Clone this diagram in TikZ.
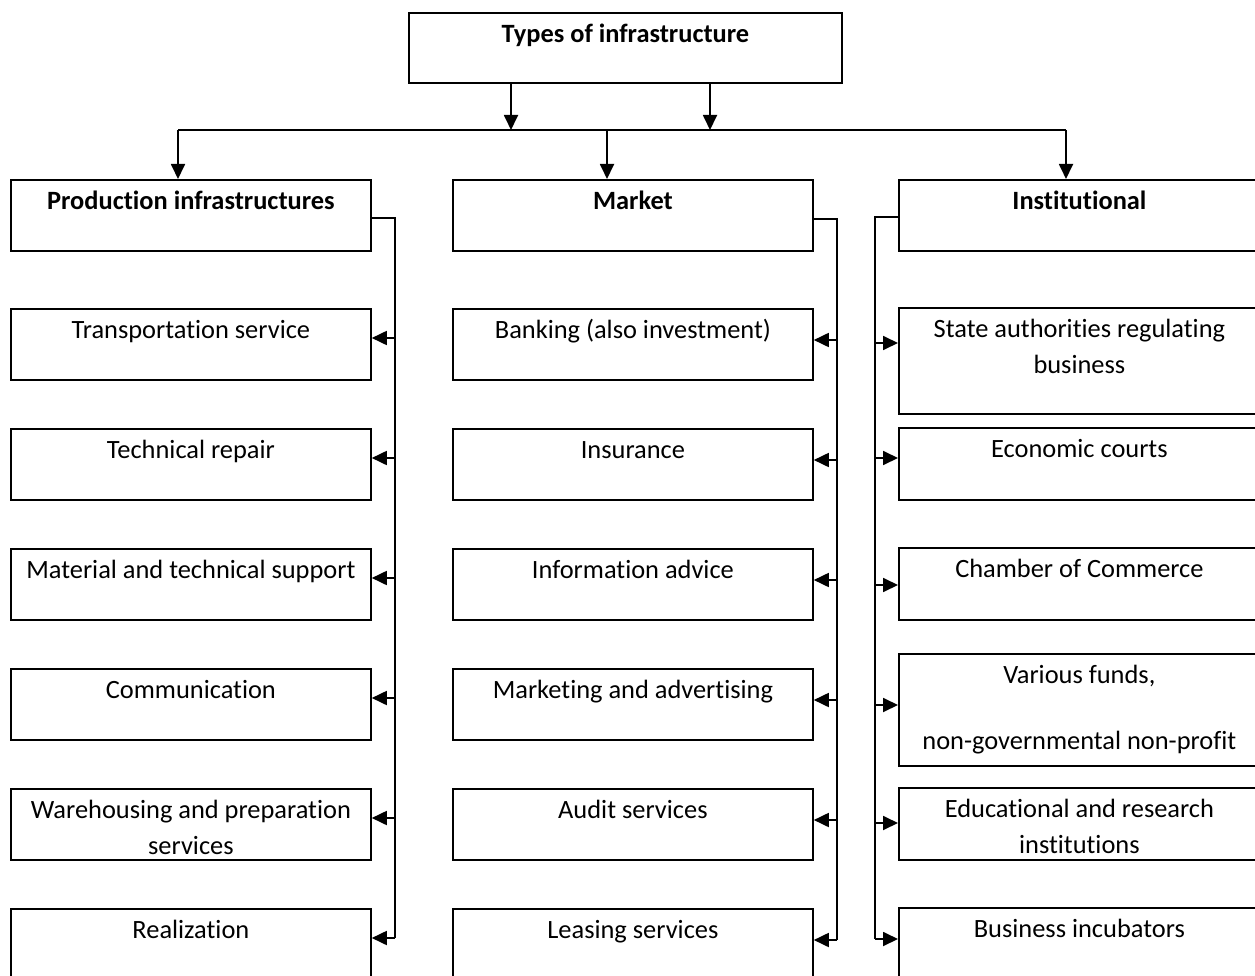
\documentclass[tikz,border=0pt]{standalone}
\usepackage{fontspec}
\setmainfont{Carlito}[Ligatures=NoCommon]
\usetikzlibrary{arrows.meta}
\newcommand{\bx}[3]{\parbox[c][#2pt][t]{#1pt}{\centering\rule{0pt}{30pt}#3}}
\begin{document}
\begin{tikzpicture}[x=1pt,y=-1pt,
  box/.style={draw, line width=1.8pt, rectangle, inner sep=0pt, anchor=north west,
    font=\fontsize{26.4}{36}\selectfont},
  conn/.style={line width=1.8pt},
  arr/.style={line width=1.8pt, -{Triangle[length=15pt,width=14pt]}}]
\useasboundingbox (0,0) rectangle (1255,976);
\clip (0,0) rectangle (1255,976);
\fill[white] (0,0) rectangle (1255,976);
% top
\node[box] (top) at (408,12) {\bx{433}{70}{\bfseries Types of infrastructure}};
% headers
\node[box] (prod) at (10,179) {\bx{360}{71}{\bfseries Production infrastructures}};
\node[box] (mkt) at (452,179) {\bx{360}{71}{\bfseries Market}};
\node[box] (inst) at (898,179) {\bx{361}{71}{\bfseries Institutional}};
% left column
\node[box] (p1) at (10,308) {\bx{360}{71}{Transportation service}};
\node[box] (p2) at (10,428) {\bx{360}{71}{Technical repair}};
\node[box] (p3) at (10,548) {\bx{360}{71}{Material and technical support}};
\node[box] (p4) at (10,668) {\bx{360}{71}{Communication}};
\node[box] (p5) at (10,788) {\bx{360}{71}{Warehousing and preparation\\services}};
\node[box] (p6) at (10,908) {\bx{360}{72}{Realization}};
% middle column
\node[box] (m1) at (452,308) {\bx{360}{71}{Banking (also investment)}};
\node[box] (m2) at (452,428) {\bx{360}{71}{Insurance}};
\node[box] (m3) at (452,548) {\bx{360}{71}{Information advice}};
\node[box] (m4) at (452,668) {\bx{360}{71}{Marketing and advertising}};
\node[box] (m5) at (452,788) {\bx{360}{71}{Audit services}};
\node[box] (m6) at (452,908) {\bx{360}{72}{Leasing services}};
% right column
\node[box] (i1) at (898,307) {\bx{361}{106}{State authorities regulating\\business}};
\node[box] (i2) at (898,427) {\bx{361}{72}{Economic courts}};
\node[box] (i3) at (898,547) {\bx{361}{72}{Chamber of Commerce}};
\node[box] (i4) at (898,653) {\bx{361}{112}{Various funds,\\[30pt]non-governmental non-profit}};
\node[box] (i5) at (898,787) {\bx{361}{72}{Educational and research\\institutions}};
\node[box] (i6) at (898,907) {\bx{361}{72}{Business incubators}};
% top arrows
\coordinate (a1) at (511,130);
\coordinate (a2) at (710,130);
\coordinate (hl) at (178,130);
\coordinate (hm) at (607,130);
\coordinate (hr) at (1066,130);
\draw[arr] (top.south -| a1) -- (a1);
\draw[arr] (top.south -| a2) -- (a2);
\draw[conn] (hl) -- (hr);
\draw[arr] (hl) -- (prod.north -| hl);
\draw[arr] (hm) -- (mkt.north -| hm);
\draw[arr] (hr) -- (inst.north -| hr);
% left bus
\coordinate (pb) at (395,218);
\foreach \i/\yy in {1/338,2/458,3/578,4/698,5/818,6/938}{
  \coordinate (L\i) at (395,\yy);
  \draw[arr] (L\i) -- (L\i -| p\i.east);
}
\draw[conn] (prod.east |- pb) -- (pb) -- (L6);
% middle bus
\coordinate (mb) at (837,219);
\foreach \i/\yy in {1/340,2/460,3/580,4/700,5/820,6/940}{
  \coordinate (M\i) at (837,\yy);
  \draw[arr] (M\i) -- (M\i -| m\i.east);
}
\draw[conn] (mkt.east |- mb) -- (mb) -- (M6);
% right bus
\coordinate (rb) at (875,217);
\foreach \i/\yy in {1/343,2/458,3/585,4/705,5/823,6/939}{
  \coordinate (R\i) at (875,\yy);
  \draw[arr] (R\i) -- (R\i -| i\i.west);
}
\draw[conn] (inst.west |- rb) -- (rb) -- (R6);
\end{tikzpicture}
\end{document}
